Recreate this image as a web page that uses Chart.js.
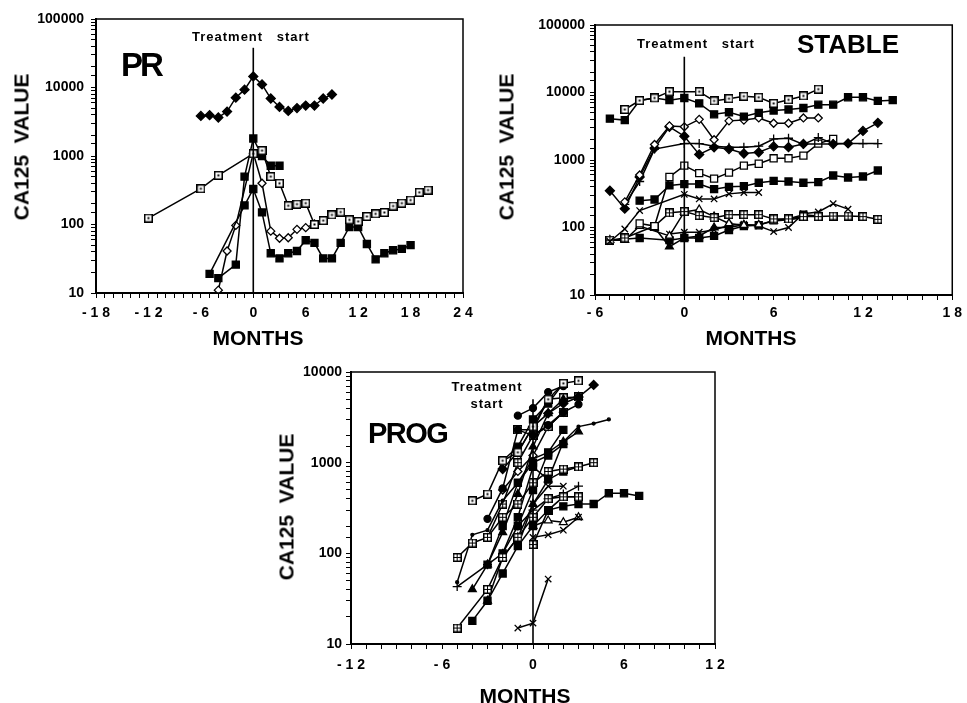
<!DOCTYPE html>
<html><head><meta charset="utf-8">
<script src="https://cdn.jsdelivr.net/npm/chart.js@4/dist/chart.umd.min.js"></script>
<style>
body{margin:0;background:#fff;width:967px;height:703px;position:relative;overflow:hidden;font-family:"Liberation Sans",Arial,Helvetica,sans-serif;}
canvas{position:absolute;left:0;top:0;}
.t{position:absolute;font-weight:bold;color:#000;white-space:pre;line-height:1;}
.rot{transform:translate(-50%,-50%) rotate(-90deg);}
.ctr{transform:translateX(-50%);}
</style></head><body>
<canvas id="cPR" width="967" height="703"></canvas>
<canvas id="cST" width="967" height="703"></canvas>
<canvas id="cPG" width="967" height="703"></canvas>

<div class="t rot" style="left:21px;top:147px;font-size:21px;">CA125  VALUE</div>
<div class="t rot" style="left:506px;top:147px;font-size:21px;">CA125  VALUE</div>
<div class="t rot" style="left:286px;top:507px;font-size:21px;">CA125  VALUE</div>
<div class="t ctr" style="left:258px;top:327px;font-size:21px;">MONTHS</div>
<div class="t ctr" style="left:751px;top:327px;font-size:21px;">MONTHS</div>
<div class="t ctr" style="left:525px;top:685px;font-size:21px;">MONTHS</div>
<div class="t" style="left:121px;top:48px;font-size:33px;letter-spacing:-3px;">PR</div>
<div class="t" style="left:797px;top:31px;font-size:26px;">STABLE</div>
<div class="t" style="left:368px;top:419px;font-size:29px;letter-spacing:-1.5px;">PROG</div>
<div class="t" style="left:192px;top:30px;font-size:13px;letter-spacing:1px;word-spacing:9px;">Treatment start</div>
<div class="t" style="left:637px;top:37px;font-size:13px;letter-spacing:1px;word-spacing:9px;">Treatment start</div>
<div class="t ctr" style="left:487px;top:378px;font-size:13px;letter-spacing:1px;line-height:17px;text-align:center;">Treatment
start</div>

<script>
// ---------- tick labels ----------
const prXLabels = ['-18','-12','-6','0','6','12','18','24'];
const stXLabels = ['-6','0','6','12','18'];
const pgXLabels = ['-12','-6','0','6','12'];
const prYLabels = ['10','100','1000','10000','100000'];
const stYLabels = ['10','100','1000','10000','100000'];
const pgYLabels = ['10','100','1000','10000'];

// ---------- treatment start lines (values at bottom / top) ----------
const prStartLine = [10, 38000];
const stStartLine = [10, 34000];
const pgStartLine = [10, 5000];

// ---------- PR panel ----------
const prA_m = [-6,-5,-4,-3,-2,-1,0,1,2,3,4,5,6,7,8,9];
const prA_v = [3850,3950,3650,4450,7100,9300,14500,11100,6900,5200,4550,5000,5450,5450,6900,7900];
const prB_m = [-12,-6,-4,0,1,2,3,4,5,6,7,8,9,10,11,12,13,14,15,16,17,18,19,20];
const prB_v = [124,333,522,1080,1200,500,400,188,198,205,100,114,138,152,117,111,131,143,150,186,205,227,295,318];
const prC_m = [-4,-2,-1,0,1,2,3];
const prC_v = [16.5,26,500,1800,1000,720,720];
const prD_m = [-5,-1,0,1,2,3,4,5,6,7,8,9,10,11,12,13,14,15,16,17,18];
const prD_v = [19,190,330,150,38,32,38,41,59,54,32,32,54,92,92,52,31,38,42,44,50];
const prE_m = [-4,-3,-2,0,1,2,3,4,5,6,7];
const prE_v = [11,41,97,1100,400,80,63,64,85,90,102];

// ---------- STABLE panel ----------
const stA_m = [-4,-3,-2,-1,1,2,3,4,5,6,7,8,9];
const stA_v = [5600,7600,8300,10300,10300,7500,8100,8800,8500,6900,7800,8900,11200];
const stB_m = [-5,-4,-3,-2,-1,0,1,2,3,4,5,6,7,8,9,10,11,12,13,14];
const stB_v = [4100,3900,7600,8300,7700,8300,6900,4750,5100,4400,5000,5400,5600,5900,6600,6600,8500,8500,7500,7700];
const stC_m = [-4,-3,-2,-1,0,1,2,3,4,5,6,7,8,9];
const stC_v = [240,600,1700,3200,3100,4000,2000,3800,3900,4200,3500,3500,4200,4200];
const stD_m = [-5,-4,-3,-2,-1,0,1,2,3,4,5,6,7,8,10,11,12,13];
const stD_v = [350,190,560,1500,3100,2250,1210,1540,1450,1250,1300,1590,1550,1730,1720,1760,2700,3550];
const stE_m = [-4,-3,-2,0,1,2,3,4,5,6,7,8,9,10,11,12,13];
const stE_v = [220,480,1450,1750,1750,1600,1550,1550,1600,2050,2100,1700,2150,1750,1750,1750,1750];
const stF_m = [-3,-2,-1,0,1,2,3,4,5,6,7,8,9,10];
const stF_v = [115,105,560,825,640,530,650,825,880,1060,1060,1160,1750,2050];
const stG_m = [-3,-2,-1,0,1,2,3,4,5,6,7,8,9,10,11,12,13];
const stG_v = [250,260,420,440,440,370,400,410,460,490,480,460,470,590,550,570,700];
const stH_m = [-5,-4,-3,0,1,2,3,4,5];
const stH_v = [62,95,178,310,265,265,315,330,330];
const stI_m = [-5,-4,-2,-1,0,1,2,3,4,5,6,7,8,9,10,11,12,13];
const stI_v = [65,70,105,165,172,150,140,155,155,155,134,134,145,145,148,148,145,132];
const stJ_m = [-5,-4,-3,-1,0,1,2,3,4,5,6,7,8];
const stJ_v = [65,65,105,75,170,185,145,115,108,110,125,130,140];
const stK_m = [-1,0,1,2,3,4,5,6,7,8,9,10,11];
const stK_v = [80,85,85,92,108,112,105,87,100,160,170,225,187];
const stL_m = [-5,-3,-1,0,1,2,3,4,5,6,7,8,9];
const stL_v = [65,70,65,70,70,75,92,105,108,128,135,155,148];
const stM_m = [-2,-1,0,1,2,3,4];
const stM_v = [100,52,70,75,100,100,110];

// ---------- PROG panel ----------
const pgA_m = [-5,-3,-2,-1,0,1,2,3];          const pgA_v = [15,40,90,150,250,400,420,420];
const pgB_m = [-4,-3,-2,-1,0,1,2,3,4,5,6,7];  const pgB_v = [18,30,60,120,200,300,330,350,350,460,460,430];
const pgC_m = [-5,-4,-3,-2,-1,0,1,2,3,4];     const pgC_v = [90,130,150,250,350,600,800,850,900,1000];
const pgD_m = [-5,-3,-2,-1,0,1,2,3];          const pgD_v = [43,75,100,200,300,400,450,550];
const pgE_m = [-5,-4,-3,-2,-1,0,1,2,3,4,5];   const pgE_v = [48,160,180,380,600,1100,1300,1700,2500,2700,3000];
const pgF_m = [-4,-3,-2,-1,0,1,2,3];          const pgF_v = [380,450,1050,1300,2500,5000,7500,8000];
const pgG_m = [-4,-3,-2,-1,0,1,2,3];          const pgG_v = [40,75,170,450,1500,3500,5000,5300];
const pgH_m = [-3,-2,-1,0,1,2,3];             const pgH_v = [240,520,2300,2000,2600,3600,4400];
const pgI_m = [-2,-1,0,1,2,3,4];              const pgI_v = [850,1300,2500,3500,4500,5300,7200];
const pgJ_m = [-1,0,1,2];                     const pgJ_v = [3300,4000,6000,7000];
const pgK_m = [-1,0,1];                       const pgK_v = [15,17,52];
const pgL_m = [0,1,2,3];                      const pgL_v = [150,160,180,250];
const pgM_m = [0,1,2,3];                      const pgM_v = [200,230,220,250];
const pgN_m = [0,1,2,3];                      const pgN_v = [125,300,420,420];
const pgO_m = [-2,-1,0,1,2,3];                const pgO_v = [100,250,900,650,800,900];
const pgP_m = [-3,-2,-1,0,1,2];               const pgP_v = [150,350,1000,2000,2500,3600];
const pgQ_m = [-1,0,1,2];                     const pgQ_v = [200,500,1300,2300];
const pgR_m = [-1,0,1,2];                     const pgR_v = [120,350,550,550];
const pgS_m = [-3,-2,-1,0,1,2,3];             const pgS_v = [30,90,150,350,650,1700,2200];
const pgT_m = [-2,-1,0,1,2];                  const pgT_v = [1050,1500,3000,4500,7500];
const pgU_m = [-1,0,1,2,3];                   const pgU_v = [2300,2300,5000,5200,5300];
const pgV_m = [-2,-1,0,1,2];                  const pgV_v = [500,800,1200,2500,3600];
const pgW_m = [-3,-2,-1,0,1,2];               const pgW_v = [75,200,600,1000,1200,1600];

// ---------- markers ----------
function boxMarker(kind){
  const c=document.createElement('canvas'); c.width=9; c.height=9;
  const g=c.getContext('2d');
  g.fillStyle='#fff'; g.fillRect(0,0,9,9);
  g.strokeStyle='#000'; g.lineWidth=1.5; g.strokeRect(0.75,0.75,7.5,7.5);
  g.fillStyle='#000';
  if(kind==='dot'){ g.fillRect(3.5,3.5,2,2); }
  else { g.lineWidth=1; g.beginPath(); g.moveTo(4.5,1); g.lineTo(4.5,8); g.moveTo(1,4.5); g.lineTo(8,4.5); g.stroke(); }
  return c;
}
const MK = {
  fsq:{pointStyle:'rect',r:5,bg:'#000'},
  osq:{pointStyle:'rect',r:5,bg:'#fff'},
  dsq:{pointStyle:boxMarker('dot'),r:5,bg:'#fff'},
  xsq:{pointStyle:boxMarker('cross'),r:5,bg:'#fff'},
  fdia:{pointStyle:'rectRot',r:4.5,bg:'#000'},
  odia:{pointStyle:'rectRot',r:4,bg:'#fff'},
  plus:{pointStyle:'cross',r:4.5,bg:'#000'},
  x:{pointStyle:'crossRot',r:4.5,bg:'#000'},
  ftri:{pointStyle:'triangle',r:4.5,bg:'#000'},
  otri:{pointStyle:'triangle',r:4.5,bg:'#fff'},
  fcir:{pointStyle:'circle',r:3.5,bg:'#000'},
  tiny:{pointStyle:'circle',r:1.5,bg:'#000'}
};
function ds(months, values, mk){
  const m = MK[mk];
  return {
    data: months.map((x,i)=>({x:x, y:values[i]})),
    borderColor:'#000', borderWidth:1.5, tension:0,
    pointStyle:m.pointStyle, pointRadius:m.r, pointBackgroundColor:m.bg,
    pointBorderColor:'#000', pointBorderWidth:1.3, pointHoverRadius:m.r
  };
}
function vline(line){
  return {data:[{x:0,y:line[0]},{x:0,y:line[1]}], borderColor:'#000', borderWidth:1.6, pointRadius:0};
}

Chart.defaults.font.family = "'Liberation Sans', Arial, Helvetica, sans-serif";
Chart.defaults.font.weight = 'bold';
Chart.defaults.font.size = 14;
Chart.defaults.color = '#000';

const boxPlugin = {id:'box', afterDraw(chart){
  const a=chart.chartArea, ctx=chart.ctx;
  ctx.save(); ctx.strokeStyle='#000'; ctx.lineWidth=1.5;
  ctx.strokeRect(a.left, a.top, a.right-a.left, a.bottom-a.top);
  ctx.restore();
}};

function makeChart(id, area, xMin, xMax, xLabels, yMax, yLabels, datasets, xPad, yPad){
  const W=967, H=703, XH=40;
  return new Chart(document.getElementById(id), {
    type:'line',
    data:{datasets:datasets},
    options:{
      responsive:false, animation:false, events:[],
      layout:{padding:{left:0, top:area.t, right:W-area.r, bottom:H-area.b-XH}},
      plugins:{legend:{display:false}, tooltip:{enabled:false}},
      scales:{
        x:{type:'linear', min:xMin, max:xMax,
           ticks:{stepSize:1, autoSkip:false, maxRotation:0, minRotation:0, padding:xPad,
             callback:(v)=>{ const s=String(v); return xLabels.includes(s) ? s.split('').join(' ') : ''; }},
           grid:{drawOnChartArea:false, tickLength:5, color:'#000', lineWidth:1},
           border:{color:'#000', width:2},
           afterFit:(s)=>{ s.height = XH; }},
        y:{type:'logarithmic', min:10, max:yMax,
           ticks:{autoSkip:false, padding:yPad,
             callback:(v)=>{ const s=String(Math.round(v)); const l=Math.log10(v); return (Math.abs(l-Math.round(l))<1e-9 && yLabels.includes(s)) ? s : ''; }},
           grid:{drawOnChartArea:false, tickLength:5, color:'#000', lineWidth:1},
           border:{color:'#000', width:2},
           afterFit:(s)=>{ s.width = area.l; }}
      }
    },
    plugins:[boxPlugin]
  });
}

makeChart('cPR', {l:96,t:19,r:463,b:293}, -18, 24, prXLabels, 100000, prYLabels, [
  vline(prStartLine),
  ds(prA_m, prA_v, 'fdia'),
  ds(prB_m, prB_v, 'dsq'),
  ds(prC_m, prC_v, 'fsq'),
  ds(prD_m, prD_v, 'fsq'),
  ds(prE_m, prE_v, 'odia')
], 7, 7);

makeChart('cST', {l:595,t:25,r:956,b:295}, -6, 18, stXLabels, 100000, stYLabels, [
  vline(stStartLine),
  ds(stA_m, stA_v, 'dsq'),
  ds(stB_m, stB_v, 'fsq'),
  ds(stC_m, stC_v, 'odia'),
  ds(stD_m, stD_v, 'fdia'),
  ds(stE_m, stE_v, 'plus'),
  ds(stF_m, stF_v, 'osq'),
  ds(stG_m, stG_v, 'fsq'),
  ds(stH_m, stH_v, 'x'),
  ds(stI_m, stI_v, 'xsq'),
  ds(stJ_m, stJ_v, 'otri'),
  ds(stK_m, stK_v, 'x'),
  ds(stL_m, stL_v, 'fsq'),
  ds(stM_m, stM_v, 'ftri')
], 5, 5);

makeChart('cPG', {l:351,t:372,r:715,b:644}, -12, 12, pgXLabels, 10000, pgYLabels, [
  vline(pgStartLine),
  ds(pgA_m, pgA_v, 'xsq'),
  ds(pgB_m, pgB_v, 'fsq'),
  ds(pgC_m, pgC_v, 'xsq'),
  ds(pgD_m, pgD_v, 'plus'),
  ds(pgE_m, pgE_v, 'tiny'),
  ds(pgF_m, pgF_v, 'dsq'),
  ds(pgG_m, pgG_v, 'ftri'),
  ds(pgH_m, pgH_v, 'fcir'),
  ds(pgI_m, pgI_v, 'fdia'),
  ds(pgJ_m, pgJ_v, 'fcir'),
  ds(pgK_m, pgK_v, 'x'),
  ds(pgL_m, pgL_v, 'x'),
  ds(pgM_m, pgM_v, 'otri'),
  ds(pgN_m, pgN_v, 'xsq'),
  ds(pgO_m, pgO_v, 'fsq'),
  ds(pgP_m, pgP_v, 'xsq'),
  ds(pgQ_m, pgQ_v, 'fsq'),
  ds(pgR_m, pgR_v, 'x'),
  ds(pgS_m, pgS_v, 'ftri'),
  ds(pgT_m, pgT_v, 'fsq'),
  ds(pgU_m, pgU_v, 'dsq'),
  ds(pgV_m, pgV_v, 'odia'),
  ds(pgW_m, pgW_v, 'fsq')
], 8, 4);
</script>
</body></html>
